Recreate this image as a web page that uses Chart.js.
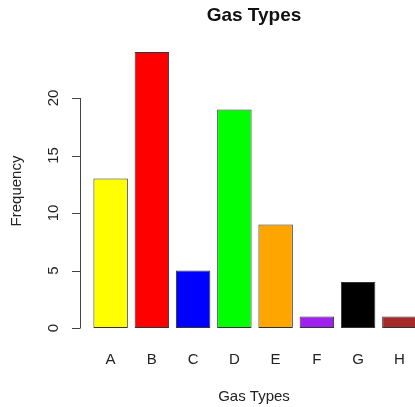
<!DOCTYPE html>
<html lang="en">
<head>
    <meta charset="UTF-8">
    <title>Gas Types</title>
    <script src="https://cdn.jsdelivr.net/npm/chart.js"></script>
    <style>
        html, body { margin: 0; padding: 0; background: #fff; overflow: hidden; }
        .wrap { position: absolute; left: 0; top: 0; width: 430px; height: 407px; }
    </style>
</head>
<body>
    <div class="wrap"><canvas id="gasChart"></canvas></div>

    <script>
        const gasTypes = ['A', 'B', 'C', 'D', 'E', 'F', 'G', 'H'];
        const frequencies = [13, 24, 5, 19, 9, 1, 4, 1];
        const barColors = ['#FFFF00', '#FF0000', '#0000FF', '#00FF00', '#FFA500', '#A020F0', '#000000', '#A52A2A'];
        const yTicks = [0, 5, 10, 15, 20];

        const font = '"Liberation Sans", Arial, sans-serif';

        // R-style axes: short y axis line, rotated tick labels, letters under bars
        const rAxes = {
            id: 'rAxes',
            afterDraw(chart) {
                const ctx = chart.ctx;
                const x = chart.scales.x, y = chart.scales.y;
                const axisX = chart.chartArea.left - 10;
                ctx.save();
                ctx.strokeStyle = '#444';
                ctx.lineWidth = 1;
                ctx.beginPath();
                ctx.moveTo(axisX + 0.5, y.getPixelForValue(yTicks[0]));
                ctx.lineTo(axisX + 0.5, y.getPixelForValue(yTicks[yTicks.length - 1]));
                yTicks.forEach(t => {
                    const py = Math.round(y.getPixelForValue(t)) + 0.5;
                    ctx.moveTo(axisX + 0.5, py);
                    ctx.lineTo(axisX - 8, py);
                });
                ctx.stroke();

                ctx.fillStyle = '#222';
                ctx.font = '15px ' + font;
                ctx.textAlign = 'center';
                ctx.textBaseline = 'middle';
                yTicks.forEach(t => {
                    ctx.save();
                    ctx.translate(axisX - 26, y.getPixelForValue(t));
                    ctx.rotate(-Math.PI / 2);
                    ctx.fillText(String(t), 0, 0);
                    ctx.restore();
                });

                gasTypes.forEach((g, i) => {
                    ctx.fillText(g, x.getPixelForValue(i), 360);
                });

                ctx.fillText('Gas Types', 254, 397);

                ctx.save();
                ctx.translate(17, 191);
                ctx.rotate(-Math.PI / 2);
                ctx.fillText('Frequency', 0, 0);
                ctx.restore();

                ctx.font = 'bold 19px ' + font;
                ctx.fillStyle = '#111';
                ctx.fillText('Gas Types', 254, 16);
                ctx.restore();
            }
        };

        new Chart(document.getElementById('gasChart'), {
            type: 'bar',
            data: {
                labels: gasTypes,
                datasets: [{
                    data: frequencies,
                    backgroundColor: barColors,
                    borderColor: '#333',
                    borderWidth: 1,
                    borderSkipped: false,
                    categoryPercentage: 1,
                    barPercentage: 0.835
                }]
            },
            options: {
                responsive: true,
                maintainAspectRatio: false,
                animation: false,
                layout: { padding: { left: 90, right: 10, top: 40.5, bottom: 79 } },
                scales: {
                    x: { display: false },
                    y: { display: false, min: 0, max: 25 }
                },
                plugins: {
                    legend: { display: false },
                    tooltip: { enabled: false }
                }
            },
            plugins: [rAxes]
        });
    </script>
</body>
</html>
